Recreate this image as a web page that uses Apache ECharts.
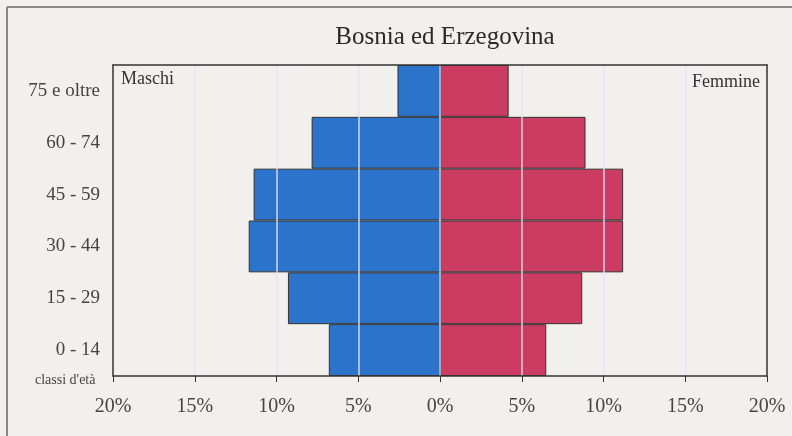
<!DOCTYPE html>
<html>
<head>
    <meta charset="utf-8">
    <script src="https://cdn.jsdelivr.net/npm/echarts@6/dist/echarts.min.js"></script>
    <style>
        html, body { margin: 0; padding: 0; background: #f1f0ec; }
    </style>
</head>
<body>
    <div id="main" style="width:792px;height:436px;"></div>
    <script>
        // classi d'età, dal basso verso l'alto
        var categories = ['0 - 14', '15 - 29', '30 - 44', '45 - 59', '60 - 74', '75 e oltre'];
        var maschi = [6.8, 9.3, 11.7, 11.4, 7.85, 2.6];
        var femmine = [6.5, 8.7, 11.2, 11.2, 8.9, 4.2];
        var xTicks = [-20, -15, -10, -5, 0, 5, 10, 15, 20];

        var serif = 'Liberation Serif';
        var myChart = echarts.init(document.getElementById('main'));

        var frame = { show: true, onZero: false, lineStyle: { color: '#333', width: 1.5 } };

        var option = {
            backgroundColor: '#f1f0ec',
            title: {
                text: 'Bosnia ed Erzegovina',
                left: 440,
                textAlign: 'center',
                top: 20,
                textStyle: { fontFamily: serif, fontSize: 25, fontWeight: 'normal', color: '#2a2a2a' }
            },
            grid: { left: 113, right: 25, top: 65, bottom: 60 },
            xAxis: [
                {
                    type: 'value',
                    min: xTicks[0],
                    max: xTicks[xTicks.length - 1],
                    interval: 5,
                    z: 5,
                    axisLine: frame,
                    axisTick: { show: true, length: 6, lineStyle: { color: '#333' } },
                    axisLabel: {
                        margin: 21,
                        fontFamily: serif,
                        fontSize: 20,
                        color: '#444',
                        formatter: function (v) { return Math.abs(v) + '%'; }
                    },
                    splitLine: {
                        show: true,
                        showMinLine: false,
                        showMaxLine: false,
                        lineStyle: { color: 'rgba(226,226,246,0.9)', width: 1.5 }
                    }
                },
                {
                    type: 'value',
                    position: 'top',
                    min: xTicks[0],
                    max: xTicks[xTicks.length - 1],
                    z: 6,
                    axisLine: frame,
                    axisTick: { show: false },
                    axisLabel: { show: false },
                    splitLine: { show: false }
                }
            ],
            yAxis: [
                {
                    type: 'category',
                    data: categories,
                    z: 6,
                    axisLine: frame,
                    axisTick: { show: false },
                    axisLabel: { margin: 13, fontFamily: serif, fontSize: 19, color: '#444' }
                },
                {
                    type: 'category',
                    position: 'right',
                    data: categories,
                    z: 6,
                    axisLine: frame,
                    axisTick: { show: false },
                    axisLabel: { show: false }
                }
            ],
            series: [
                {
                    name: 'Maschi',
                    type: 'bar',
                    z: 2,
                    barGap: '-100%',
                    barCategoryGap: 0,
                    itemStyle: { color: '#2b73cb', borderColor: '#333', borderWidth: 1 },
                    data: maschi.map(function (v) { return -v; })
                },
                {
                    name: 'Femmine',
                    type: 'bar',
                    z: 2,
                    barCategoryGap: 0,
                    itemStyle: { color: '#cb3b62', borderColor: '#333', borderWidth: 1 },
                    data: femmine
                }
            ],
            graphic: [
                { type: 'line', shape: { x1: 7, y1: 7, x2: 7, y2: 436 }, style: { stroke: '#888', lineWidth: 2 } },
                { type: 'line', shape: { x1: 7, y1: 7, x2: 792, y2: 7 }, style: { stroke: '#888', lineWidth: 2 } },
                { type: 'text', left: 121, top: 70, style: { text: 'Maschi', font: '18px ' + serif, fill: '#333' } },
                { type: 'text', right: 32, top: 73, style: { text: 'Femmine', font: '18px ' + serif, fill: '#333' } },
                { type: 'text', left: 35, top: 373, style: { text: "classi d'età", font: '14px ' + serif, fill: '#444' } }
            ]
        };

        myChart.setOption(option);
    </script>
</body>
</html>
